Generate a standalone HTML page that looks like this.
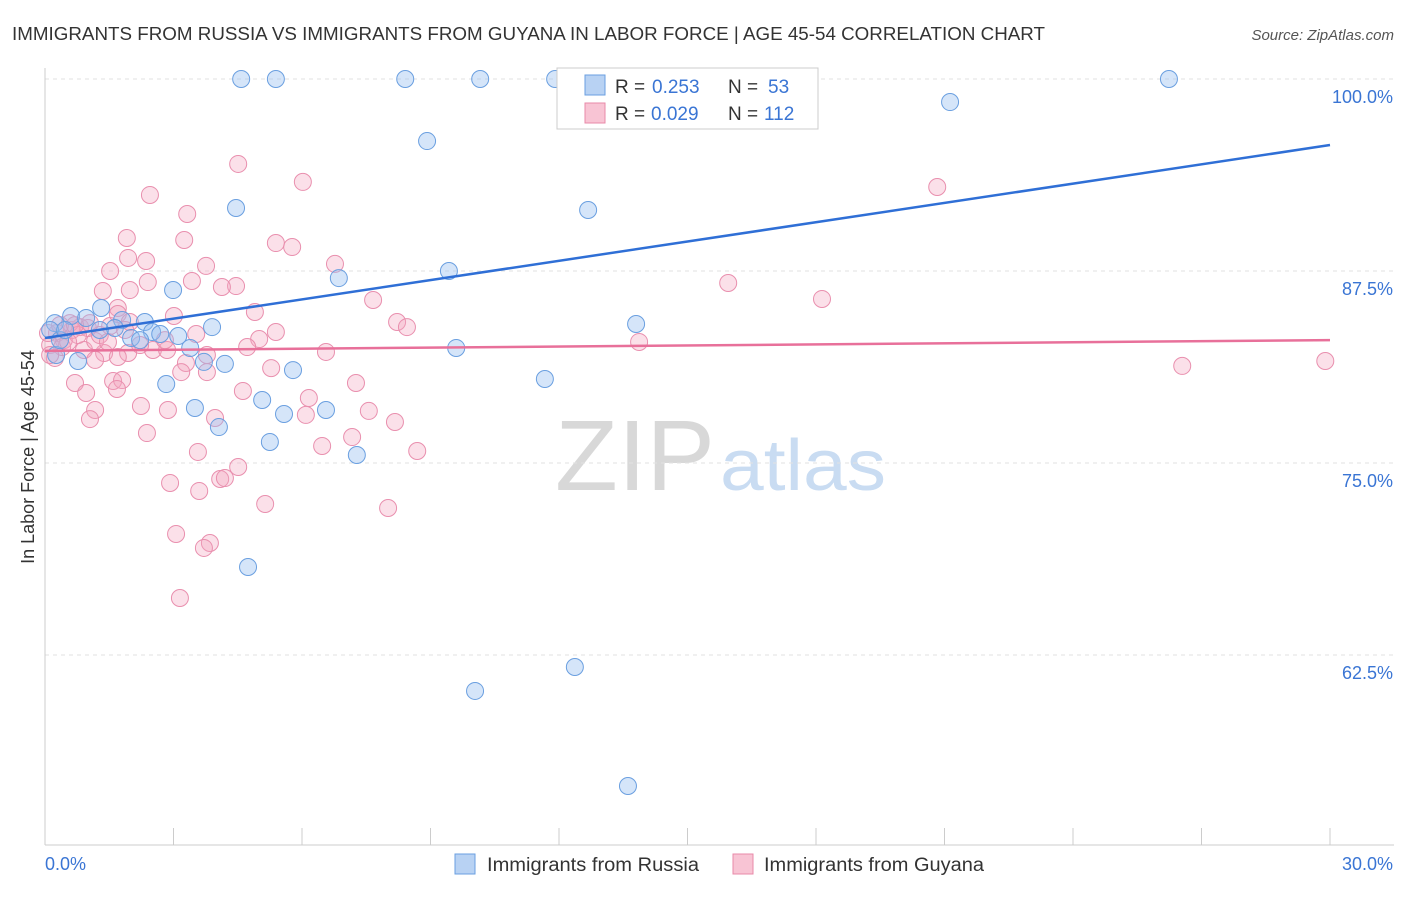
<!DOCTYPE html>
<html><head><meta charset="utf-8">
<style>
body{margin:0;background:#fff;font-family:"Liberation Sans",sans-serif;}
svg text{font-family:"Liberation Sans",sans-serif;}
</style></head>
<body>
<svg id="chart" width="1406" height="892" viewBox="0 0 1406 892" xmlns="http://www.w3.org/2000/svg">
<text x="12" y="40" font-size="18" fill="#333" textLength="1033" lengthAdjust="spacingAndGlyphs">IMMIGRANTS FROM RUSSIA VS IMMIGRANTS FROM GUYANA IN LABOR FORCE | AGE 45-54 CORRELATION CHART</text>
<text x="1394" y="40" font-size="15" fill="#555" font-style="italic" text-anchor="end">Source: ZipAtlas.com</text>
<text transform="translate(34,457) rotate(-90)" font-size="18" fill="#333" text-anchor="middle">In Labor Force | Age 45-54</text>
<g>
<text x="635" y="490" font-size="100" fill="#d8d8d8" font-family="Liberation Serif,serif" text-anchor="middle" textLength="160" lengthAdjust="spacingAndGlyphs">ZIP</text>
<text x="803" y="490" font-size="72" fill="#c9dcf2" text-anchor="middle" textLength="166" lengthAdjust="spacingAndGlyphs">atlas</text>
</g>
<g id="grid"></g>
<g id="axes"></g>
<g id="pts"></g>
<g id="trend"></g>
<g>
<rect x="557" y="68" width="261" height="61" fill="#fff" stroke="#ccc"/>
<rect x="585" y="75" width="20" height="20" fill="#b8d2f3" stroke="#6a9fe0"/>
<text y="93" font-size="19" fill="#333"><tspan x="615">R =</tspan><tspan x="652" fill="#3a75d4">0.253</tspan><tspan x="728">N =</tspan><tspan x="768" fill="#3a75d4">53</tspan></text>
<rect x="585" y="103" width="20" height="20" fill="#f8c4d4" stroke="#e88aa8"/>
<text y="120" font-size="19" fill="#333"><tspan x="615">R =</tspan><tspan x="651" fill="#3a75d4">0.029</tspan><tspan x="728">N =</tspan><tspan x="764" fill="#3a75d4">112</tspan></text>
</g>
<g>
<rect x="455" y="854" width="20" height="20" fill="#b8d2f3" stroke="#6a9fe0"/>
<text x="487" y="871" font-size="19" fill="#333" textLength="212" lengthAdjust="spacingAndGlyphs">Immigrants from Russia</text>
<rect x="733" y="854" width="20" height="20" fill="#f8c4d4" stroke="#e88aa8"/>
<text x="764" y="871" font-size="19" fill="#333" textLength="220" lengthAdjust="spacingAndGlyphs">Immigrants from Guyana</text>
</g>
</svg>
<script>
const yTicks=[100,87.5,75,62.5];
const yTickLabels=["100.0%","87.5%","75.0%","62.5%"];
const xTickCount=10;
const xLabels=["0.0%","30.0%"];
const russiaX=[4.58,5.39,8.41,10.16,11.91,12.37,14.24,26.24,21.13,8.92,4.46,12.68,9.43,6.86,2.99,1.31,0.61,0.23,0.96,1.80,2.33,3.90,13.8,1.63,2.50,2.69,3.11,2.01,3.39,9.6,0.77,0.26,3.71,4.2,5.79,11.67,2.83,3.50,5.07,6.56,5.58,4.06,5.25,7.28,4.74,12.37,10.04,13.61,0.12,0.35,1.28,2.22,0.47];
const russiaY=[100,100,100,100,100,100,100,100,98.5,95.96,91.6,91.47,87.5,87.04,86.26,85.09,84.57,84.11,84.44,84.31,84.18,83.85,84.05,83.79,83.53,83.4,83.27,83.14,82.49,82.49,81.64,82.03,81.58,81.45,81.05,80.47,80.14,78.58,79.1,78.45,78.19,77.34,76.37,75.52,68.23,61.72,60.16,53.97,83.66,83.0,83.66,83.0,83.66];
const guyanaX=[4.51,6.02,2.45,3.32,1.91,3.25,5.39,5.77,1.94,2.36,1.52,3.76,6.77,2.40,3.43,4.46,4.13,1.98,1.35,1.70,4.90,3.01,7.66,8.22,8.45,5.39,3.53,5.0,4.72,6.56,2.52,2.85,1.38,1.94,1.70,0.91,1.17,0.44,0.63,0.82,1.0,0.28,1.52,1.70,1.98,3.78,3.29,3.18,5.28,3.78,1.59,1.80,0.70,1.68,0.96,4.62,7.26,2.24,2.87,1.17,1.05,6.16,6.09,7.56,8.17,3.97,2.38,7.17,6.47,3.57,8.69,4.51,4.09,2.92,3.60,8.01,5.14,3.06,3.85,3.71,3.15,20.83,15.95,18.14,13.87,26.55,29.89,0.12,0.23,0.07,0.40,0.58,0.77,1.28,1.47,0.35,0.54,1.05,1.87,2.22,2.80,1.17,4.20,0.12,0.70];
const guyanaY=[94.47,93.3,92.45,91.21,89.65,89.52,89.32,89.06,88.35,88.15,87.5,87.83,87.96,86.78,86.85,86.52,86.46,86.26,86.2,85.09,84.83,84.57,85.61,84.18,83.85,83.53,83.4,83.07,82.55,82.23,82.36,82.36,82.16,82.16,81.9,82.36,82.94,83.0,83.66,83.85,83.79,83.46,83.92,84.7,84.18,82.03,81.51,80.92,81.18,80.92,80.34,80.4,80.21,79.82,79.56,79.69,80.21,78.71,78.45,78.45,77.86,79.23,78.13,78.39,77.67,77.93,76.95,76.69,76.11,75.72,75.78,74.74,73.96,73.7,73.18,72.07,72.33,70.38,69.79,69.47,66.21,92.97,86.72,85.68,82.88,81.32,81.64,82.68,81.84,83.46,82.55,84.11,83.33,83.33,82.88,83.98,82.88,84.11,83.66,82.68,83.0,81.71,74.02,82.03,83.98];
const russiaTrend=[83.14,95.7];
const guyanaTrend=[82.3,83.0];

const NS="http://www.w3.org/2000/svg";
const X0=45,X1=1330,Y100=79,PX_PER=15.36;
function sx(v){return X0+(v/30)*(X1-X0);}
function sy(v){return Y100+(100-v)*PX_PER;}
function mk(tag,attrs,parent){const e=document.createElementNS(NS,tag);for(const k in attrs)e.setAttribute(k,attrs[k]);parent.appendChild(e);return e;}
const grid=document.getElementById('grid'),axes=document.getElementById('axes'),pts=document.getElementById('pts'),trend=document.getElementById('trend');
yTicks.forEach((t,i)=>{
  const l=mk('line',{x1:X0,x2:1394,y1:sy(t),y2:sy(t),stroke:'#e2e2e2','stroke-dasharray':'4,4'},grid);
  
  
  const tx=mk('text',{x:1393,y:sy(t)+24,'font-size':18,fill:'#3a75d4','text-anchor':'end'},axes);
  tx.textContent=yTickLabels[i];
  
  
});
const ax=mk('line',{x1:X0,x2:X0,y1:68,y2:845,stroke:'#ccc'},axes);


const bx=mk('line',{x1:X0,x2:1394,y1:845,y2:845,stroke:'#ccc'},axes);


for(let i=0;i<=xTickCount;i++){
  const v=i*30/xTickCount;
  const t=mk('line',{x1:sx(v),x2:sx(v),y1:828,y2:845,stroke:'#ccc'},axes);
  
  
}
[[0,xLabels[0]],[30,xLabels[1]]].forEach(([v,s])=>{
  const t=mk('text',{x:v===0?sx(v):1393,y:870,'font-size':18,fill:'#3a75d4','text-anchor':v===0?'start':'end'},axes);
  t.textContent=s;
  
  
});
guyanaX.forEach((x,i)=>{
  const c=mk('circle',{cx:sx(x),cy:sy(guyanaY[i]),r:8.5,fill:'rgba(244,166,193,0.35)',stroke:'#e98fae','stroke-width':1},pts);
  
  
});
russiaX.forEach((x,i)=>{
  const c=mk('circle',{cx:sx(x),cy:sy(russiaY[i]),r:8.5,fill:'rgba(150,190,240,0.4)',stroke:'#6a9fe0','stroke-width':1},pts);
  
  
});
const tr=mk('line',{x1:sx(0),y1:sy(russiaTrend[0]),x2:sx(30),y2:sy(russiaTrend[1]),stroke:'#2f6fd6','stroke-width':2.5},trend);


const tg=mk('line',{x1:sx(0),y1:sy(guyanaTrend[0]),x2:sx(30),y2:sy(guyanaTrend[1]),stroke:'#e8709a','stroke-width':2.5},trend);


</script>
</body></html>
